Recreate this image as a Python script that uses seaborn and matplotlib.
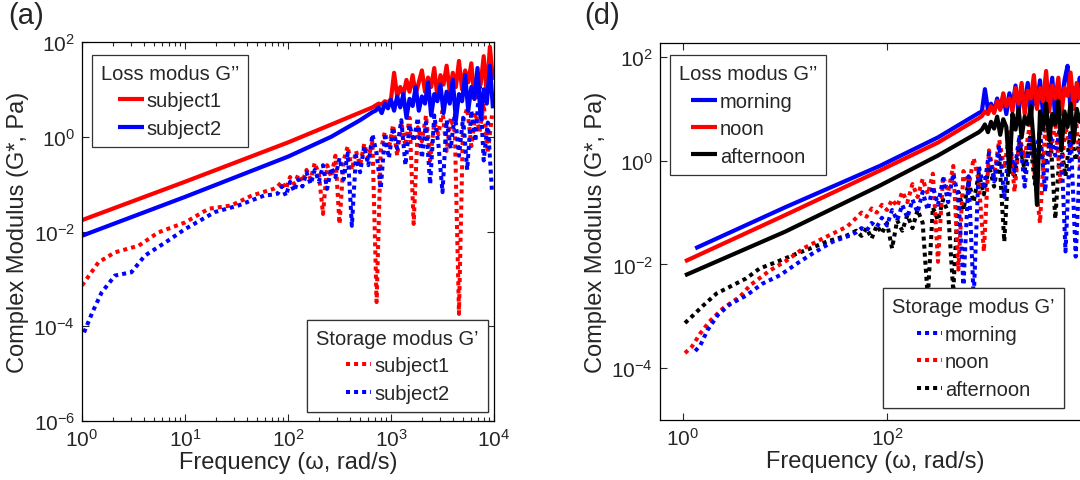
import numpy as np
import pandas as pd
import matplotlib
matplotlib.use("Agg")
import matplotlib.pyplot as plt
import seaborn as sns
from matplotlib.ticker import LogLocator, NullLocator, FixedLocator
from matplotlib.lines import Line2D

# ---------------- data: log10 exponents ----------------
# Panel (a) -- Loss modulus G'' (solid)
a_loss_s1_x = [0.0, 1.0, 2.0, 2.5, 2.82]
a_loss_s1_y = [-1.76, -0.95, -0.12, 0.33, 0.62]
a_loss_s2_x = [0.0, 1.0, 2.0, 2.42, 2.7, 2.82]
a_loss_s2_y = [-2.09, -1.27, -0.42, 0.0, 0.35, 0.52]
a_loss_noise_x = [2.85, 2.88, 2.91, 2.94, 2.97, 3.00, 3.03, 3.06, 3.09, 3.12, 3.15, 3.18, 3.21,
                  3.24, 3.27, 3.30, 3.33, 3.36, 3.39, 3.42, 3.45, 3.48, 3.51, 3.54, 3.57, 3.60,
                  3.63, 3.66, 3.69, 3.72, 3.75, 3.78, 3.81, 3.84, 3.87, 3.90, 3.93, 3.96, 3.99]
a_loss_s1_noise = [0.66, 0.70, 0.68, 0.75, 0.72, 0.80, 1.35, 0.85, 1.05, 0.88, 1.20, 0.95, 1.30,
                   0.90, 1.15, 1.40, 0.95, 1.25, 1.05, 1.45, 0.85, 1.30, 1.10, 1.50, 0.95, 1.35,
                   1.05, 1.60, 1.00, 1.40, 1.15, 1.55, 0.80, 1.35, 1.10, 1.70, 0.90, 1.90, 1.20]
a_loss_s2_noise = [0.55, 0.62, 0.50, 0.70, 0.60, 0.78, 0.55, 0.85, 0.62, 0.90, 0.40, 0.80, 0.65,
                   1.05, 0.55, 0.85, 0.70, 1.15, 0.45, 0.90, 0.75, 1.10, 0.50, 0.95, 0.70, 1.20,
                   0.35, 0.90, 0.75, 1.30, 0.55, 1.05, 0.80, 1.45, 0.40, 1.00, 0.70, 1.50, 0.60]

# Panel (a) -- Storage modulus G' (dotted)
a_stor_s1_x = [0.0, 0.16, 0.32, 0.55, 0.74, 1.0, 1.23, 1.45, 1.65, 1.86]
a_stor_s1_y = [-3.14, -2.65, -2.44, -2.30, -2.02, -1.81, -1.52, -1.45, -1.24, -1.10]
a_stor_s2_x = [0.02, 0.10, 0.19, 0.32, 0.48, 0.61, 0.81, 1.0, 1.29, 1.52, 1.77, 1.86]
a_stor_s2_y = [-4.13, -3.71, -3.29, -2.93, -2.86, -2.51, -2.23, -1.95, -1.59, -1.45, -1.24, -1.22]
a_stor_noise_x = [1.90, 1.94, 1.98, 2.02, 2.06, 2.10, 2.14, 2.18, 2.22, 2.26, 2.30, 2.34, 2.38,
                  2.42, 2.46, 2.50, 2.54, 2.58, 2.62, 2.66, 2.70, 2.74, 2.78, 2.82, 2.86, 2.90,
                  2.94, 2.98, 3.02, 3.06, 3.10, 3.14, 3.18, 3.22, 3.26, 3.30, 3.34, 3.38, 3.42,
                  3.46, 3.50, 3.54, 3.58, 3.62, 3.66, 3.70, 3.74, 3.78, 3.82, 3.86, 3.90, 3.94, 3.98]
a_stor_s1_noise = [-1.05, -0.95, -1.10, -0.85, -1.00, -0.80, -0.95, -0.70, -0.90, -0.55, -0.80,
                   -1.63, -0.60, -0.85, -0.40, -1.84, -0.50, -0.20, -0.70, -0.30, -0.60, -0.15,
                   -0.45, -0.10, -3.49, -0.30, 0.10, -0.25, 0.25, -0.40, 0.30, -0.20, 0.40, -1.84,
                   0.20, -0.10, 0.45, -0.50, 0.30, 0.05, 0.55, -0.30, 0.40, 0.10, -3.74, 0.35,
                   0.60, -0.20, 0.50, 0.10, 0.70, -0.35, 0.45]
a_stor_s2_noise = [-1.20, -1.05, -1.25, -0.95, -1.15, -0.90, -1.05, -0.75, -1.00, -0.70, -0.95,
                   -0.60, -1.10, -0.65, -0.85, -0.45, -0.90, -0.35, -1.88, -0.40, -0.75, -0.20,
                   -0.60, 0.05, -0.35, -1.10, 0.00, -0.45, 0.20, -0.25, 0.35, -0.60, 0.25, -0.10,
                   0.40, -0.45, 0.30, -1.00, 0.45, -0.15, -1.17, 0.35, -0.25, 0.50, -0.40, 0.40,
                   -0.70, 0.55, -0.10, 1.20, -0.50, 0.30, -1.15]

# Panel (d) -- Loss modulus G'' (solid)
d_loss_morn_x = [0.12, 1.0, 1.93, 2.5, 2.9]
d_loss_morn_y = [-1.69, -0.90, -0.10, 0.45, 0.92]
d_loss_noon_x = [0.02, 1.0, 1.93, 2.5, 2.9]
d_loss_noon_y = [-1.94, -1.05, -0.19, 0.35, 0.82]
d_loss_aft_x = [0.02, 1.0, 1.93, 2.5, 2.9]
d_loss_aft_y = [-2.21, -1.37, -0.48, 0.10, 0.55]
d_loss_noise_x = [2.93, 2.96, 2.99, 3.02, 3.05, 3.08, 3.11, 3.14, 3.17, 3.20, 3.23, 3.26, 3.29,
                  3.32, 3.35, 3.38, 3.41, 3.44, 3.47, 3.50, 3.53, 3.56, 3.59, 3.62, 3.65, 3.68,
                  3.71, 3.74, 3.77, 3.80, 3.83, 3.86, 3.89, 3.92, 3.95, 3.98]
d_loss_morn_noise = [0.95, 1.38, 0.98, 1.10, 0.95, 1.20, 1.00, 1.25, 0.90, 1.30, 1.05, 1.45, 0.95,
                     1.35, 1.10, 1.50, 0.85, 1.30, 1.05, 1.55, 0.90, 1.40, 1.15, 1.60, 0.80, 1.35,
                     1.10, 1.55, 1.83, 0.95, 1.40, 1.15, 1.60, 1.00, 1.45, 1.20]
d_loss_noon_noise = [0.86, 0.95, 0.90, 1.05, 0.92, 1.15, 0.98, 1.30, 1.05, 1.20, 0.95, 1.40, 1.10,
                     1.50, 0.90, 1.35, 1.20, 1.65, 1.00, 1.40, 1.15, 1.73, 0.95, 1.45, 1.20, 1.60,
                     0.90, 1.40, 1.25, 1.70, 1.00, 1.50, 1.20, 1.65, 1.05, 1.45]
d_loss_aft_noise = [0.60, 0.70, 0.55, 0.75, 0.62, 0.85, 0.50, 0.80, 0.65, -0.22, 0.90, 0.60, 1.00,
                    0.45, 0.85, 0.70, 1.05, 0.30, -0.85, 0.95, 0.60, 1.10, 0.40, 0.90, 0.70, 1.15,
                    0.20, 0.95, 0.65, 1.10, 0.35, 1.00, 0.75, 1.15, 0.50, 0.95]

# Panel (d) -- Storage modulus G' (dotted)
d_stor_morn_x = [0.12, 0.17, 0.24, 0.34, 0.46, 0.62, 0.78, 0.95, 1.12, 1.27, 1.47, 1.64]
d_stor_morn_y = [-3.67, -3.56, -3.27, -2.98, -2.77, -2.60, -2.37, -2.21, -1.98, -1.79, -1.56, -1.44]
d_stor_noon_x = [0.02, 0.09, 0.17, 0.26, 0.39, 0.56, 0.66, 0.85, 1.02, 1.18, 1.37, 1.61]
d_stor_noon_y = [-3.71, -3.58, -3.33, -3.10, -2.85, -2.62, -2.40, -2.12, -1.92, -1.69, -1.50, -1.27]
d_stor_aft_x = [0.02, 0.09, 0.20, 0.33, 0.46, 0.62, 0.75, 0.92, 1.08, 1.25, 1.41, 1.61]
d_stor_aft_y = [-3.13, -3.00, -2.79, -2.56, -2.43, -2.27, -2.08, -1.95, -1.82, -1.69, -1.56, -1.44]
d_stor_noise_x = [1.70, 1.75, 1.80, 1.85, 1.90, 1.95, 2.00, 2.05, 2.10, 2.15, 2.20, 2.25, 2.30,
                  2.35, 2.40, 2.45, 2.50, 2.55, 2.60, 2.65, 2.70, 2.75, 2.80, 2.85, 2.90, 2.95,
                  3.00, 3.05, 3.10, 3.15, 3.20, 3.25, 3.30, 3.35, 3.40, 3.45, 3.50, 3.55, 3.60,
                  3.65, 3.70, 3.75, 3.80, 3.85, 3.90, 3.95]
d_stor_morn_noise = [-1.38, -1.30, -1.35, -1.20, -1.28, -1.10, -1.25, -0.95, -1.15, -0.85, -1.10,
                     -0.75, -1.00, -0.60, -0.95, -0.50, -0.85, -0.35, -0.80, -0.25, -0.70, -2.40,
                     -0.30, -2.65, -0.10, -0.55, 0.15, -0.40, 0.30, -0.70, 0.35, -0.20, 0.50, -0.50,
                     0.40, 0.00, 0.60, -0.60, 0.50, 0.10, 0.70, -1.75, 0.55, -1.85, 0.40, 0.80]
d_stor_noon_noise = [-1.10, -1.00, -1.08, -0.92, -1.00, -0.85, -0.95, -0.75, -0.88, -0.60, -0.80,
                     -0.45, -0.70, -0.35, -0.65, -0.25, -1.95, -0.30, -0.60, -0.10, -2.10, -0.20,
                     -0.50, 0.05, -0.40, -1.75, 0.20, -0.30, 0.40, -0.15, 0.55, -0.60, 0.45, 0.05,
                     0.70, -0.30, -1.20, 0.60, 0.10, 0.75, -0.40, 0.65, 0.20, 0.85, -0.20, 0.70]
d_stor_aft_noise = [-1.35, -1.45, -1.30, -1.50, -1.25, -1.40, -1.20, -1.69, -1.15, -1.35, -1.05,
                    -1.30, -0.95, -1.20, -2.65, -0.90, -1.15, -0.75, -1.00, -2.52, -0.60, -0.95,
                    -0.40, -0.80, -0.25, -0.65, -0.10, -0.50, 0.10, -1.56, 0.20, -0.35, 0.35, -0.20,
                    0.45, -0.45, 0.30, -0.10, 0.55, -1.12, 0.40, -0.30, 0.60, 0.00, 0.50, -0.40]

a_labels = ["subject1", "subject2"]
d_labels = ["morning", "noon", "afternoon"]

# ---------------- style ----------------
sns.set_style("ticks")
plt.rcParams["font.family"] = ["Liberation Sans", "DejaVu Sans"]
plt.rcParams["mathtext.fontset"] = "custom"
plt.rcParams["mathtext.rm"] = "Liberation Sans"
plt.rcParams["mathtext.it"] = "Liberation Sans:italic"
plt.rcParams["mathtext.bf"] = "Liberation Sans:bold"
plt.rcParams["lines.dash_capstyle"] = "butt"
plt.rcParams["lines.solid_capstyle"] = "butt"
plt.rcParams["axes.edgecolor"] = "black"
plt.rcParams["axes.linewidth"] = 0.9

RED, BLUE, BLACK = "#ff0000", "#0000ff", "#000000"
SOLID_LW = 3.0
DOT_LW = 2.9
DOT = (0, (1, 1))

fig = plt.figure(figsize=(10.8, 4.81), dpi=100)
axA = fig.add_axes([82 / 1080, 1 - 422 / 481, 412 / 1080, 379 / 481])
axD = fig.add_axes([660 / 1080, 1 - 421 / 481, 431 / 1080, 377 / 481])


def draw(ax, xs, ys, color, style, lw):
    df = pd.DataFrame({"freq": 10.0 ** np.asarray(xs, dtype=float),
                       "modulus": 10.0 ** np.asarray(ys, dtype=float)})
    sns.lineplot(data=df, x="freq", y="modulus", ax=ax, color=color, estimator=None,
                 sort=False, errorbar=None, linewidth=lw, linestyle=style, legend=False)


# Panel (a)
draw(axA, a_stor_s1_x + a_stor_noise_x, a_stor_s1_y + a_stor_s1_noise, RED, DOT, DOT_LW)
draw(axA, a_stor_s2_x + a_stor_noise_x, a_stor_s2_y + a_stor_s2_noise, BLUE, DOT, DOT_LW)
draw(axA, a_loss_s1_x + a_loss_noise_x, a_loss_s1_y + a_loss_s1_noise, RED, "-", SOLID_LW)
draw(axA, a_loss_s2_x + a_loss_noise_x, a_loss_s2_y + a_loss_s2_noise, BLUE, "-", SOLID_LW)

# Panel (d)
draw(axD, d_stor_aft_x + d_stor_noise_x, d_stor_aft_y + d_stor_aft_noise, BLACK, DOT, DOT_LW)
draw(axD, d_stor_noon_x + d_stor_noise_x, d_stor_noon_y + d_stor_noon_noise, RED, DOT, DOT_LW)
draw(axD, d_stor_morn_x + d_stor_noise_x, d_stor_morn_y + d_stor_morn_noise, BLUE, DOT, DOT_LW)
draw(axD, d_loss_morn_x + d_loss_noise_x, d_loss_morn_y + d_loss_morn_noise, BLUE, "-", SOLID_LW)
draw(axD, d_loss_noon_x + d_loss_noise_x, d_loss_noon_y + d_loss_noon_noise, RED, "-", SOLID_LW)
draw(axD, d_loss_aft_x + d_loss_noise_x, d_loss_aft_y + d_loss_aft_noise, BLACK, "-", SOLID_LW)

TICK_FS = 15
LABEL_FS = 17
LEG_FS = 14.5

for ax in (axA, axD):
    ax.set_xscale("log")
    ax.set_yscale("log")
    ax.set_xlabel("Frequency (\u03c9, rad/s)", fontsize=LABEL_FS, labelpad=1)
    ax.set_ylabel("Complex Modulus (G*, Pa)", fontsize=LABEL_FS, labelpad=3)
    ax.tick_params(which="both", direction="in", top=True, right=True,
                   labelsize=TICK_FS, width=0.8, pad=5)
    ax.tick_params(which="major", length=5)
    ax.tick_params(which="minor", length=3)
    for s in ax.spines.values():
        s.set_visible(True)
        s.set_color("black")

axA.set_xlim(1, 1e4)
axA.set_ylim(1e-6, 1e2)
axA.xaxis.set_major_locator(FixedLocator([1, 10, 100, 1000, 10000]))
axA.xaxis.set_minor_locator(LogLocator(base=10, subs=np.arange(2, 10), numticks=20))
axA.yaxis.set_major_locator(FixedLocator([1e-6, 1e-4, 1e-2, 1, 1e2]))
axA.yaxis.set_minor_locator(NullLocator())

axD.set_xlim(10 ** -0.225, 1e4)
axD.set_ylim(1e-5, 10 ** 2.27)
axD.xaxis.set_major_locator(FixedLocator([1, 100]))
axD.xaxis.set_minor_locator(NullLocator())
axD.yaxis.set_major_locator(FixedLocator([1e-4, 1e-2, 1, 1e2]))
axD.yaxis.set_minor_locator(NullLocator())


def handles(colors, style, lw):
    return [Line2D([], [], color=c, linestyle=style, linewidth=lw) for c in colors]


def legend(ax, hs, labels, title, loc, anchor):
    leg = ax.legend(hs, labels, title=title, loc=loc, bbox_to_anchor=anchor,
                    borderaxespad=0, fontsize=LEG_FS, title_fontsize=LEG_FS,
                    frameon=True, fancybox=False, framealpha=1, edgecolor="#333333",
                    handlelength=1.25, handletextpad=0.15, labelspacing=0.42,
                    borderpad=0.45, alignment="center")
    leg.get_frame().set_linewidth(0.9)
    ax.add_artist(leg)
    return leg


legend(axA, handles([RED, BLUE], "-", SOLID_LW), a_labels,
       "Loss modus G\u2019\u2019", "upper left", (0.024, 0.966))
legend(axA, handles([RED, BLUE], DOT, DOT_LW), a_labels,
       "Storage modus G\u2019", "lower right", (0.985, 0.024))
legend(axD, handles([BLUE, RED, BLACK], "-", SOLID_LW), d_labels,
       "Loss modus G\u2019\u2019", "upper left", (0.023, 0.968))
legend(axD, handles([BLUE, RED, BLACK], DOT, DOT_LW), d_labels,
       "Storage modus G\u2019", "lower right", (0.937, 0.032))

fig.text(0.008, 0.995, "(a)", fontsize=21, va="top", ha="left")
fig.text(0.541, 0.995, "(d)", fontsize=21, va="top", ha="left")

fig.savefig("out.png", dpi=100)
